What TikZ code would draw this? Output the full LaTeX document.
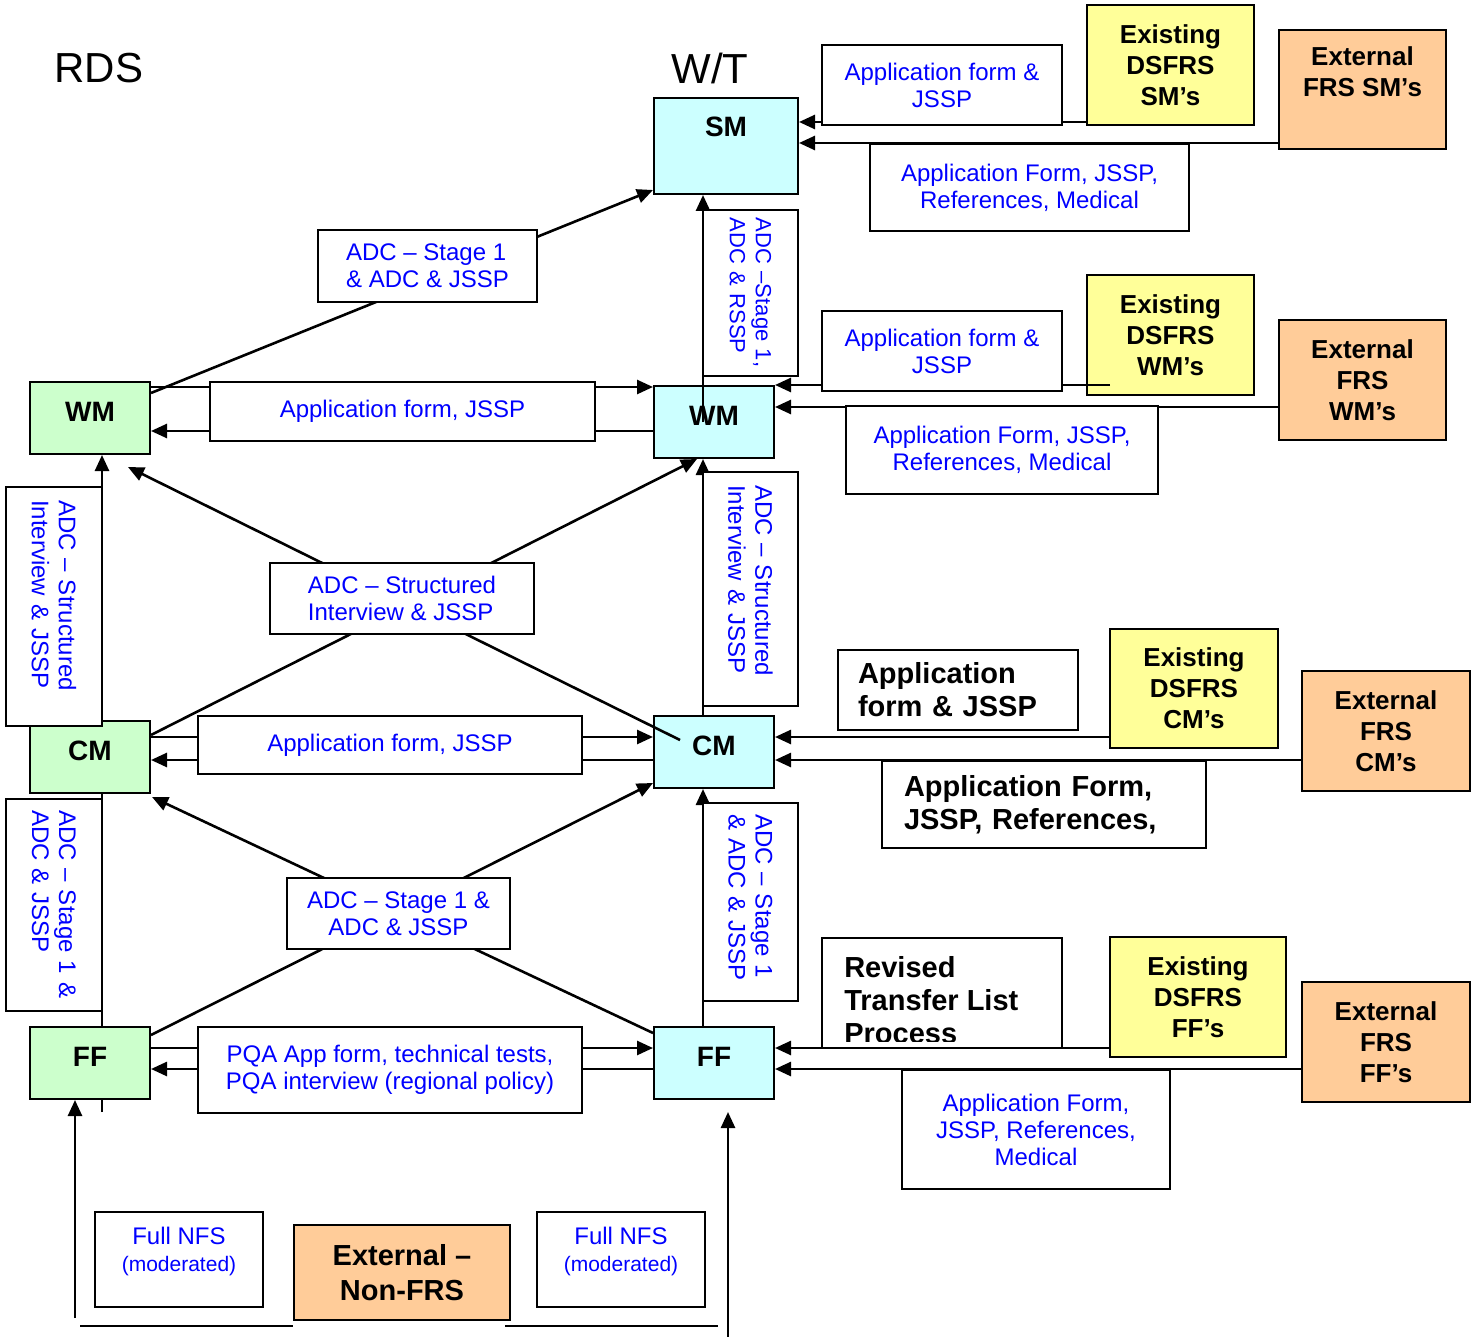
\documentclass[tikz,border=0pt]{standalone}
\usepackage{fontspec}
\setmainfont{Liberation Sans}
\usetikzlibrary{arrows.meta}

\definecolor{rdsgreen}{HTML}{CCFFCC}
\definecolor{wtcyan}{HTML}{CCFFFF}
\definecolor{dsfrsyellow}{HTML}{FFFF99}
\definecolor{extorange}{HTML}{FFCC99}

\newcommand\lblfont{\fontsize{24}{27}\selectfont}
\newcommand\rolefont{\fontsize{28}{32}\selectfont\bfseries}
\newcommand\srcfont{\fontsize{26}{31}\selectfont\bfseries}
\newcommand\notefont{\fontsize{29}{33}\selectfont\bfseries}
\newcommand\headfont{\fontsize{42}{48}\selectfont}

\begin{document}
\begin{tikzpicture}
  [x=1pt, y=-1pt, line width=2.6pt, >={Triangle[length=16pt,width=14pt]},
   every node/.style={inner sep=0pt}]

  \tikzstyle{role}  = [draw, line width=2pt, font=\rolefont, minimum width=120, minimum height=72, text depth=12pt]
  \tikzstyle{rds}   = [role, fill=rdsgreen]
  \tikzstyle{wt}    = [role, fill=wtcyan]
  \tikzstyle{box}   = [draw, line width=2pt, fill=white, text=blue, font=\lblfont, align=center]
  \tikzstyle{vbox}  = [box, rotate=-90, align=left]
  \tikzstyle{dsfrs} = [draw, line width=2pt, fill=dsfrsyellow, font=\srcfont, align=center, minimum width=167, minimum height=120]
  \tikzstyle{ext}   = [dsfrs, fill=extorange]

  \useasboundingbox (0,0) rectangle (1480,1337);

  \node[font=\headfont] (rdsHead) at (99,68)  {RDS};
  \node[font=\headfont] (wtHead)  at (710,68) {W/T};

  \node[rds] (wmR) at (90,418)  {WM};
  \node[rds] (cmR) at (90,757)  {CM};
  \node[rds] (ffR) at (90,1063) {FF};
  \node[wt, minimum width=144, minimum height=96, text depth=38pt] (smW) at (726,146) {SM};
  \node[wt]  (wmW) at (714,422)  {WM};
  \node[wt]  (cmW) at (714,752)  {CM};
  \node[wt]  (ffW) at (714,1063) {FF};

  \node[dsfrs]                                (smDs)  at (1170.5,65)  {Existing\\DSFRS\\SM’s};
  \node[ext, minimum height=119, text depth=36pt] (smExt) at (1362.5,89.5) {External\\FRS SM’s};
  \node[dsfrs]                                (wmDs)  at (1170.5,335) {Existing\\DSFRS\\WM’s};
  \node[ext]                                  (wmExt) at (1362.5,380) {External\\FRS\\WM’s};
  \node[dsfrs, minimum width=168, minimum height=119] (cmDs) at (1194,688.5) {Existing\\DSFRS\\CM’s};
  \node[ext, minimum width=168]               (cmExt) at (1386,731)   {External\\FRS\\CM’s};
  \node[dsfrs, minimum width=176]             (ffDs)  at (1198,997)   {Existing\\DSFRS\\FF’s};
  \node[ext, minimum width=168]               (ffExt) at (1386,1042)  {External\\FRS\\FF’s};

  \coordinate (vR)     at (102,0);
  \coordinate (vW)     at (703,0);
  \coordinate (tickR)  at (102,1112);
  \coordinate (baseL)  at (75,1318);
  \coordinate (baseW)  at (728,1337);
  \coordinate (tipW)   at (728,1112);
  \coordinate (wmRin)  at (128,467);
  \coordinate (cmRin)  at (152,797);
  \coordinate (cmWin)  at (680,740);
  \coordinate (wmDsIn) at (1110,385);
  \coordinate (lineA1) at (80,1326);
  \coordinate (lineA2) at (293,1326);
  \coordinate (lineB1) at (505,1326);
  \coordinate (lineB2) at (718,1326);

  \draw (tickR) -- (ffR.south -| vR);
  \draw (ffR.north -| vR) -- (cmR.south -| vR);
  \draw (lineA1) -- (lineA2);
  \draw (lineB1) -- (lineB2);

  \path[->]
        (wmR.east |- 0,387)  edge (wmW.west |- 0,387)
        (wmW.west |- 0,431)  edge (wmR.east |- 0,431)
        (cmR.east |- 0,737)  edge (cmW.west |- 0,737)
        (cmW.west |- 0,760)  edge (cmR.east |- 0,760)
        (ffR.east |- 0,1048) edge (ffW.west |- 0,1048)
        (ffW.west |- 0,1069) edge (ffR.east |- 0,1069)
        (wmR.east |- 0,393)  edge (smW.west |- 0,190)
        (cmR.east |- 0,735)  edge (wmW.south -| 697,0)
        (cmWin)              edge (wmRin)
        (ffR.east |- 0,1035) edge (cmW.west |- 0,783)
        (ffW.west |- 0,1033) edge (cmRin)
        (cmR.north -| vR)    edge (wmR.south -| vR)
        (ffW.north -| vW)    edge (cmW.south -| vW)
        (cmW.north -| vW)    edge (wmW.south -| vW)
        (wmW.center -| vW)   edge (smW.south -| vW)
        (baseL)              edge (ffR.south -| baseL)
        (baseW)              edge (tipW)
        (smDs.west |- 0,122)  edge (smW.east |- 0,122)
        (smExt.west |- 0,143) edge (smW.east |- 0,143)
        (wmDsIn)              edge (wmW.east |- 0,385)
        (wmExt.west |- 0,407) edge (wmW.east |- 0,407)
        (cmDs.west |- 0,737)  edge (cmW.east |- 0,737)
        (cmExt.west |- 0,760) edge (cmW.east |- 0,760)
        (ffDs.west |- 0,1048) edge (ffW.east |- 0,1048)
        (ffExt.west |- 0,1069) edge (ffW.east |- 0,1069);

  \node[box, minimum width=240, minimum height=80]  (smForm) at (942,85)      {Application form \&\\JSSP};
  \node[box, minimum width=319, minimum height=87]  (smRef)  at (1029.5,187.5) {Application Form, JSSP,\\References, Medical};
  \node[vbox, font=\fontsize{22}{26}\selectfont, minimum width=166, minimum height=95, text width=150] (smAdc) at (750.5,293) {ADC –Stage 1,\\ADC \& RSSP};
  \node[box, minimum width=219, minimum height=72, align=left] (topAdc) at (427.5,266) {ADC – Stage 1\\\& ADC \& JSSP};
  \node[box, minimum width=385, minimum height=59]  (wmApp)  at (402.5,411.5) {Application form, JSSP};
  \node[box, minimum width=240, minimum height=80]  (wmForm) at (942,351)     {Application form \&\\JSSP};
  \node[box, minimum width=312, minimum height=88]  (wmRef)  at (1002,450)    {Application Form, JSSP,\\References, Medical};
  \node[vbox, minimum width=239, minimum height=96, text width=213] (wmAdcL) at (54,606.5)  {ADC – Structured\\Interview \& JSSP};
  \node[vbox, minimum width=234, minimum height=95, text width=208] (wmAdcW) at (750.5,589) {ADC – Structured\\Interview \& JSSP};
  \node[box, minimum width=264, minimum height=71, align=left] (midAdc) at (402,598.5) {ADC – Structured\\Interview \& JSSP};
  \node[box, minimum width=384, minimum height=58]  (cmApp)  at (390,745)     {Application form, JSSP};
  \node[box, text=black, font=\notefont, minimum width=240, minimum height=80, text width=200, align=left] (cmForm) at (958,690)    {Application\\form \& JSSP};
  \node[box, text=black, font=\notefont, minimum width=324, minimum height=87, text width=280, align=left] (cmRef)  at (1044,804.5) {Application Form,\\JSSP, References,};
  \node[vbox, minimum width=212, minimum height=96, text width=190] (cmAdcL) at (54,905)    {ADC – Stage 1 \&\\ADC \& JSSP};
  \node[vbox, minimum width=198, minimum height=95, text width=176] (cmAdcW) at (750.5,902) {ADC – Stage 1\\\& ADC \& JSSP};
  \node[box, minimum width=223, minimum height=71]  (lowAdc) at (398.5,913.5) {ADC – Stage 1 \&\\ADC \& JSSP};
  \node[box, minimum width=384, minimum height=86]  (ffApp)  at (390,1070)    {PQA App form, technical tests,\\PQA interview (regional policy)};
  \node[box, minimum width=240, minimum height=110] (rtl)    at (942,993)     {};
  \begin{scope}
    \clip (822,938) rectangle (1062,1041);
    \node[font=\notefont, align=left, anchor=north west] (rtlText) at (843,955) {Revised\\Transfer List\\Process};
  \end{scope}
  \node[box, minimum width=268, minimum height=119] (ffRef)  at (1036,1129.5) {Application Form,\\JSSP, References,\\Medical};

  \node[box, minimum width=168, minimum height=95, text depth=21pt]  (nfsL)   at (179,1259.5) {Full NFS\\{\fontsize{21}{26}\selectfont(moderated)}};
  \node[ext, font=\fontsize{29}{35}\selectfont\bfseries, minimum width=216, minimum height=95] (nonFrs) at (402,1272.5) {External –\\Non-FRS};
  \node[box, minimum width=168, minimum height=95, text depth=21pt]  (nfsR)   at (621,1259.5) {Full NFS\\{\fontsize{21}{26}\selectfont(moderated)}};
\end{tikzpicture}
\end{document}
